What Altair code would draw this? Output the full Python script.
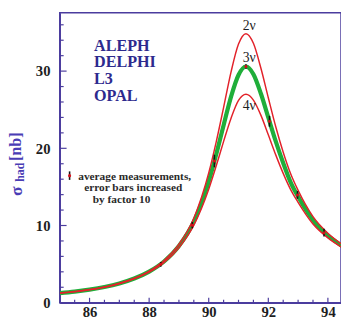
import altair as alt
import pandas as pd

# ---- curve values (sigma_had in nb) ----
energy = [85, 85.5, 86, 86.5, 87, 87.5, 88, 88.5, 89, 89.5, 90, 90.25, 90.5, 90.75,
          91, 91.25, 91.5, 91.75, 92, 92.25, 92.5, 92.75, 93, 93.5, 94, 94.5]
sigma_2nu = [1.26, 1.44, 1.70, 2.04, 2.52, 3.17, 4.09, 5.46, 7.57, 10.95, 16.8, 20.8, 25.3, 29.9,
             33.5, 34.85, 33.6, 30.4, 26.55, 22.8, 19.5, 16.7, 14.55, 11.15, 9.0, 7.5]
sigma_3nu = [1.25, 1.43, 1.69, 2.03, 2.49, 3.13, 4.03, 5.34, 7.35, 10.5, 15.7, 19.2, 23.0, 26.7,
             29.5, 30.6, 29.6, 27.1, 24.0, 20.9, 18.1, 15.6, 13.75, 10.7, 8.7, 7.3]
sigma_4nu = [1.24, 1.40, 1.67, 2.01, 2.46, 3.09, 3.96, 5.22, 7.12, 10.04, 14.7, 17.7, 20.9, 23.9,
             26.2, 27.0, 26.25, 24.3, 21.75, 19.15, 16.75, 14.65, 13.0, 10.2, 8.4, 7.1]

# ---- averaged measurements ----
meas_energy = [88.39, 89.45, 90.19, 91.25, 92.04, 92.98, 93.87]
meas_sigma = [4.97, 10.04, 18.35, 30.6, 23.5, 13.96, 9.07]
meas_err = [0.3, 0.4, 0.8, 0.3, 0.7, 0.5, 0.5]

# ---- axis ticks ----
x_major = [86, 88, 90, 92, 94]
x_minor = [85.5, 86.5, 87, 87.5, 88.5, 89, 89.5, 90.5, 91, 91.5, 92.5, 93, 93.5]
y_major = [0, 10, 20, 30]
y_minor = [2, 4, 6, 8, 12, 14, 16, 18, 22, 24, 26, 28, 32, 34, 36]

# ---- annotations ----
experiments = ["ALEPH", "DELPHI", "L3", "OPAL"]
exp_x = [86.15, 86.15, 86.15, 86.15]
exp_y = [33.27, 31.12, 28.97, 26.82]

nu_labels = ["2ν", "3ν", "4ν"]
nu_x = [91.36, 91.36, 91.36]
nu_y = [35.8, 31.75, 25.43]

legend_lines = ["average measurements,", "error bars increased", "by factor 10"]
legend_x = [85.62, 85.82, 86.11]
legend_y = [16.33, 14.81, 13.29]
legend_pt_x = [85.33]
legend_pt_y = [16.46]
legend_pt_err = [0.55]

title_parts = ["σ", "had", "[nb]"]
title_x = [83.575, 83.68, 83.53]
title_y = [14.45, 16.9, 20.2]
title_size = [18, 12, 16.5]

W, H = 288, 297
XDOM = [85, 94.44]
YDOM = [0, 37.57]
PURPLE = "#4b3c9e"
SERIF = "Liberation Serif"

xs = alt.Scale(domain=XDOM, nice=False, zero=False)
ys = alt.Scale(domain=YDOM, nice=False, zero=True)

x_axis = alt.Axis(values=x_major, tickSize=0, grid=False, title=None, labelFont=SERIF,
                  labelFontWeight="bold", labelFontSize=15, labelColor="#1e1e1e",
                  labelPadding=2, domainColor=PURPLE, domainWidth=1.5, format="d")
y_axis = alt.Axis(values=y_major, tickSize=0, grid=False, title=None, labelFont=SERIF,
                  labelFontWeight="bold", labelFontSize=15, labelColor="#1e1e1e",
                  labelPadding=10, domainColor=PURPLE, domainWidth=1.5, format="d")

def X(f):
    return alt.X(f, type="quantitative", scale=xs, axis=x_axis)

def Y(f):
    return alt.Y(f, type="quantitative", scale=ys, axis=y_axis)

curves = pd.DataFrame({"e": energy, "s2": sigma_2nu, "s3": sigma_3nu, "s4": sigma_4nu})
meas = pd.DataFrame({"e": meas_energy, "s": meas_sigma, "err": meas_err})
meas["lo"] = meas["s"] - meas["err"]
meas["hi"] = meas["s"] + meas["err"]
leg = pd.DataFrame({"e": legend_pt_x, "s": legend_pt_y, "err": legend_pt_err})
leg["lo"] = leg["s"] - leg["err"]
leg["hi"] = leg["s"] + leg["err"]

green = alt.Chart(curves).mark_line(color="#1fae3a", strokeWidth=4.3, interpolate="monotone",
                                    clip=True).encode(x=X("e"), y=Y("s3"))
red2 = alt.Chart(curves).mark_line(color="#e2222a", strokeWidth=1.5, interpolate="monotone",
                                   clip=True).encode(x=X("e"), y=Y("s2"))
red4 = alt.Chart(curves).mark_line(color="#e2222a", strokeWidth=1.5, interpolate="monotone",
                                   clip=True).encode(x=X("e"), y=Y("s4"))

def err_layers(df):
    bars = alt.Chart(df).mark_rule(color="#111111", strokeWidth=1.6).encode(
        x=X("e"), y=Y("lo"), y2="hi")
    dots = alt.Chart(df).mark_circle(color="#d8101a", size=10, opacity=1).encode(
        x=X("e"), y=Y("s"))
    return [bars, dots]

xt_major = alt.Chart(pd.DataFrame({"v": x_major})).mark_rule(color=PURPLE, strokeWidth=1.2).encode(
    x=X("v"), y=alt.value(H), y2=alt.value(H - 5))
xt_minor = alt.Chart(pd.DataFrame({"v": x_minor})).mark_rule(color=PURPLE, strokeWidth=1.2).encode(
    x=X("v"), y=alt.value(H), y2=alt.value(H - 3))
yt_major = alt.Chart(pd.DataFrame({"v": y_major})).mark_rule(color=PURPLE, strokeWidth=1.2).encode(
    y=Y("v"), x=alt.value(0), x2=alt.value(7))
yt_minor = alt.Chart(pd.DataFrame({"v": y_minor})).mark_rule(color=PURPLE, strokeWidth=1.2).encode(
    y=Y("v"), x=alt.value(0), x2=alt.value(4))

exp_text = alt.Chart(pd.DataFrame({"t": experiments, "x": exp_x, "y": exp_y})).mark_text(
    font=SERIF, fontWeight="bold", fontSize=16.5, color="#2d2a8e", align="left",
    baseline="middle").encode(x=X("x"), y=Y("y"), text="t:N")

nu_text = alt.Chart(pd.DataFrame({"t": nu_labels, "x": nu_x, "y": nu_y})).mark_text(
    font=SERIF, fontSize=14, color="#1e1e1e", align="center", baseline="middle").encode(
    x=X("x"), y=Y("y"), text="t:N")

leg_text = alt.Chart(pd.DataFrame({"t": legend_lines, "x": legend_x, "y": legend_y})).mark_text(
    font=SERIF, fontWeight="bold", fontSize=11.6, color="#2a2a2a", align="left",
    baseline="middle").encode(x=X("x"), y=Y("y"), text="t:N")

title_df = pd.DataFrame({"t": title_parts, "x": title_x, "y": title_y, "fs": title_size})
title_text = alt.Chart(title_df).mark_text(
    font=SERIF, fontWeight="bold", color="#4a3db5", angle=270, align="center",
    baseline="middle").encode(x=X("x"), y=Y("y"), text="t:N",
                              size=alt.Size("fs:Q", scale=None, legend=None))

layers = [green, red2, red4] + err_layers(meas) + err_layers(leg) + [
    xt_major, xt_minor, yt_major, yt_minor, exp_text, nu_text, leg_text, title_text]

chart = alt.layer(*layers).properties(
    width=W, height=H,
    padding={"left": 53, "top": 1, "right": 0, "bottom": 17},
    autosize=alt.AutoSizeParams(type="none"),
).configure_view(stroke=PURPLE, strokeWidth=1.5)

chart.save("out.html", embed_options={"renderer": "svg", "actions": False})
